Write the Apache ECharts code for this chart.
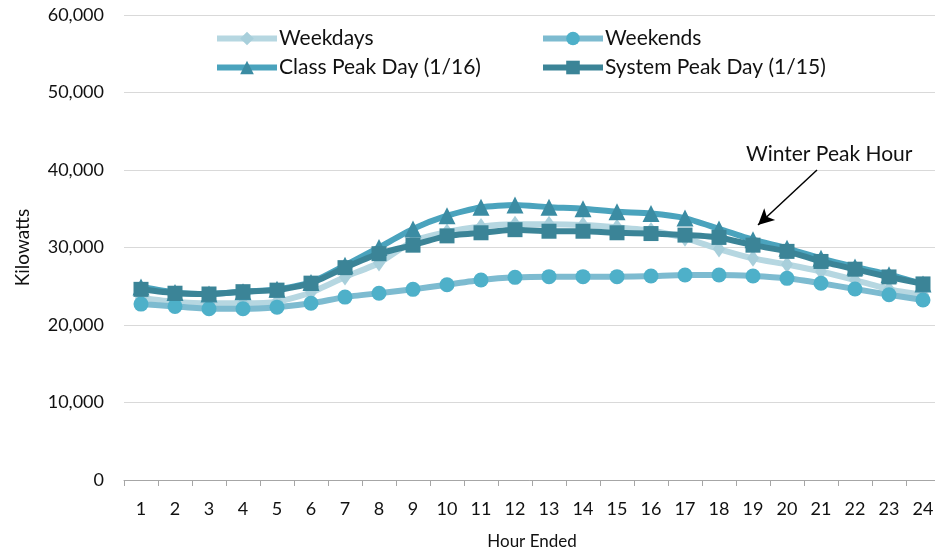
<!DOCTYPE html>
<html>
<head>
<meta charset="utf-8">
<script src="https://cdn.jsdelivr.net/npm/echarts@6/dist/echarts.min.js"></script>
<style>html,body{margin:0;padding:0;background:#fff;}#c{width:935px;height:554px;}</style>
</head>
<body>
<div id="c"></div>
<script>
const hours = ['1','2','3','4','5','6','7','8','9','10','11','12','13','14','15','16','17','18','19','20','21','22','23','24'];
const weekdays = [23500, 23000, 22800, 22800, 23000, 24200, 26200, 28000, 30800, 32000, 32700, 33000, 33000, 32900, 32600, 32200, 31200, 29800, 28600, 27800, 26900, 25800, 24600, 23900];
const weekends = [22700, 22400, 22100, 22100, 22300, 22800, 23600, 24100, 24600, 25200, 25800, 26150, 26240, 26240, 26240, 26320, 26450, 26450, 26320, 26020, 25380, 24650, 23900, 23230];
const classPeak = [24900, 24200, 24000, 24300, 24600, 25500, 27700, 30000, 32400, 34100, 35200, 35500, 35200, 35000, 34600, 34400, 33800, 32400, 31000, 29900, 28600, 27500, 26500, 25300];
const systemPeak = [24600, 24100, 24000, 24300, 24500, 25400, 27400, 29200, 30300, 31500, 31900, 32300, 32100, 32100, 31900, 31800, 31600, 31300, 30300, 29500, 28200, 27200, 26200, 25300];
const seriesNames = ['Weekdays', 'Weekends', 'Class Peak Day (1/16)', 'System Peak Day (1/15)'];
const yTicks = [0, 10000, 20000, 30000, 40000, 50000, 60000];
const annotationText = 'Winter Peak Hour';

const FONT = 'Lato, "Open Sans", sans-serif';
const chart = echarts.init(document.getElementById('c'), null, {renderer: 'canvas'});

function mkSeries(name, data, lineColor, markColor, symbol, size, z) {
  return {
    name: name, type: 'line', data: data, symbol: symbol, symbolSize: size,
    z: z, smooth: 0.2,
    lineStyle: {color: lineColor, width: 6},
    itemStyle: {color: markColor, borderWidth: 0},
    emphasis: {disabled: true},
    animation: false
  };
}

const legendBase = {
  padding: 0, itemWidth: 60, itemHeight: 17, itemGap: 0,
  textStyle: {fontFamily: FONT, fontSize: 21, color: '#111', padding: [0, 0, 0, -3]},
  lineStyle: {width: 6},
  selectedMode: false
};

const option = {
  backgroundColor: '#fff',
  animation: false,
  textStyle: {fontFamily: FONT},
  grid: {left: 124, top: 15, width: 816, height: 465, containLabel: false, outerBoundsMode: 'none'},
  legend: [
    Object.assign({}, legendBase, {data: [seriesNames[0]], left: 214, top: 28}),
    Object.assign({}, legendBase, {data: [seriesNames[1]], left: 540, top: 28}),
    Object.assign({}, legendBase, {data: [seriesNames[2]], left: 214, top: 57}),
    Object.assign({}, legendBase, {data: [seriesNames[3]], left: 540, top: 57})
  ],
  xAxis: {
    type: 'category', data: hours, boundaryGap: true,
    axisLine: {lineStyle: {color: '#a6a6a6', width: 1}},
    axisTick: {show: true, length: 6, lineStyle: {color: '#a6a6a6'}},
    axisLabel: {fontFamily: FONT, fontSize: 18, color: '#111', margin: 20},
    name: 'Hour Ended', nameLocation: 'middle', nameGap: 53,
    nameTextStyle: {fontFamily: FONT, fontSize: 17, color: '#111'}
  },
  yAxis: {
    type: 'value', min: yTicks[0], max: yTicks[yTicks.length - 1], interval: yTicks[1] - yTicks[0],
    axisLine: {show: false}, axisTick: {show: false},
    splitLine: {lineStyle: {color: '#d9d9d9', width: 1}},
    axisLabel: {fontFamily: FONT, fontSize: 18, color: '#111', margin: 20,
      formatter: v => v.toLocaleString('en-US')},
    name: 'Kilowatts', nameLocation: 'middle', nameRotate: 90, nameGap: 92,
    nameTextStyle: {fontFamily: FONT, fontSize: 19, color: '#111'}
  },
  series: [
    mkSeries(seriesNames[0], weekdays, '#b6d7e1', '#a8cfdb', 'diamond', [12, 17], 2),
    mkSeries(seriesNames[1], weekends, '#7dbbd0', '#4eb0c9', 'circle', 15, 3),
    mkSeries(seriesNames[2], classPeak, '#4aa3bd', '#3b8ca3', 'triangle', 17, 4),
    Object.assign(mkSeries(seriesNames[3], systemPeak, '#3b8497', '#3b8497', 'rect', 15, 5), {
      markLine: {
        silent: true, animation: false,
        symbol: ['none', 'arrow'], symbolSize: [12, 16],
        lineStyle: {color: '#000', width: 1.5, type: 'solid'},
        label: {show: false},
        data: [[{x: 817, y: 170}, {x: 758, y: 225}]]
      }
    })
  ],
  graphic: [{
    type: 'text', left: 746, top: 144, silent: true,
    style: {text: annotationText, font: '21px ' + FONT, fill: '#111'}
  }]
};
chart.setOption(option);
</script>
</body>
</html>
